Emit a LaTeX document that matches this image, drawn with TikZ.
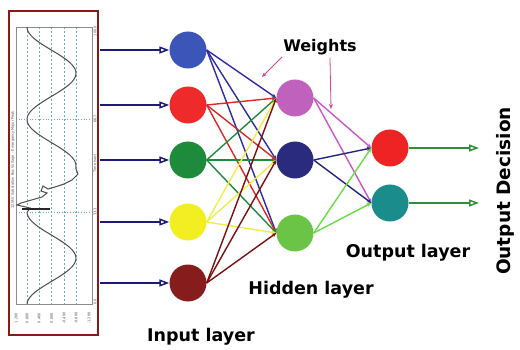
\documentclass[tikz,border=0pt]{standalone}
\usepackage{fontspec}
\setmainfont{DejaVu Sans}
\usetikzlibrary{arrows.meta}
\definecolor{inblue}{HTML}{3B55B9}
\definecolor{inred}{HTML}{EE2A2A}
\definecolor{ingreen}{HTML}{1D8A3C}
\definecolor{inyellow}{HTML}{F2EE22}
\definecolor{indark}{HTML}{861C1C}
\definecolor{hpink}{HTML}{C062BD}
\definecolor{hnavy}{HTML}{2A2A7E}
\definecolor{hgreen}{HTML}{6CC446}
\definecolor{ored}{HTML}{EE2424}
\definecolor{oteal}{HTML}{1B8C8C}
\definecolor{lblue}{HTML}{2C2CA8}
\definecolor{lred}{HTML}{D82828}
\definecolor{lgreen}{HTML}{1E8A3C}
\definecolor{lyellow}{HTML}{EEEE44}
\definecolor{ldark}{HTML}{7A1010}
\definecolor{lpink}{HTML}{CC55C8}
\definecolor{lnavy}{HTML}{24247E}
\definecolor{lgreenb}{HTML}{66DD44}
\definecolor{outarrow}{HTML}{2F8F3A}
\definecolor{inarrow}{HTML}{1C1C78}
\definecolor{wpink}{HTML}{E0408A}
\definecolor{boxred}{HTML}{8A1A1A}
\definecolor{gridc}{HTML}{6AAFB0}
\begin{document}
\begin{tikzpicture}[x=1pt,y=-1pt,
  neuron/.style={circle, minimum size=37pt, inner sep=0pt, draw=none},
  lbl/.style={font=\fontsize{17.5}{20}\selectfont\bfseries, inner sep=0pt, text=black},
  conn/.style={line width=1.4pt, -{Stealth[length=4.5pt,width=4pt]}},
  bigarrow/.style={line width=2.2pt, -{Triangle[open, length=10pt, width=7pt, line width=1.5pt]}},
  tiny/.style={font=\fontsize{3.5}{4}\selectfont, inner sep=0pt, text=black!70},
  warrow/.style={wpink, line width=0.8pt, -{Stealth[length=5pt,width=4pt]}}]
\useasboundingbox (0,0) rectangle (520,350);
% ---- left plot panel ----
\draw[boxred, line width=1.6pt] (9,11) rectangle (98,335);
\foreach \gx in {27,39,51.5,64,76}
  \draw[gridc, line width=0.5pt, dash pattern=on 2pt off 2pt] (\gx,27) -- (\gx,304);
\foreach \gy in {119,212}
  \draw[gridc, dotted, line width=0.7pt] (16,\gy) -- (92,\gy);
\draw[black!45, line width=0.8pt] (16,27) rectangle (92,304);
\draw[black!70, line width=1pt]
  plot[domain=27:165, samples=70, variable=\t] ({51.5-24.5*cos(3.8919*(\t-27))},{\t})
  -- (76,169) -- (78,174) -- (72,180) -- (64,184) -- (55,187) -- (48,189) -- (43,186)
  -- (41,191) -- (47,193) -- (42,197) -- (35,199) -- (28,201) -- (21,203) -- (17,205)
  -- (30,208) -- (28,211) -- (27,212)
  plot[domain=212:304, samples=40, variable=\t] ({51.5-24.5*cos(3.8919*(\t-27))},{\t});
\draw[black!85, line width=1.1pt] (22,209) -- (50,209);
\node[tiny, rotate=90] (ptitle) at (13,160) {12.5kV Substation Bus Voltage -- Emergency Major Peak};
\node[tiny, rotate=90] (ptime) at (95,163) {Time (sec)};
\node[tiny, rotate=90] (pt1) at (95,31) {100.0};
\node[tiny, rotate=90] (pt2) at (95,119) {66.7};
\node[tiny, rotate=90] (pt3) at (95,212) {33.3};
\node[tiny, rotate=90] (pt4) at (95,302) {0.0};
\foreach \vx/\vl in {16/1.200, 27/0.800, 39/0.400, 51.5/0.000, 64/-0.400, 76/-0.800, 89/-1.200}
  \node[tiny, rotate=90] at (\vx,318) {\vl};
% ---- neurons ----
\node[neuron, fill=inblue] (i1) at (188,50) {};
\node[neuron, fill=inred] (i2) at (188,105) {};
\node[neuron, fill=ingreen] (i3) at (188,160) {};
\node[neuron, fill=inyellow] (i4) at (188,222) {};
\node[neuron, fill=indark] (i5) at (188,283) {};
\node[neuron, fill=hpink] (h1) at (295,98) {};
\node[neuron, fill=hnavy] (h2) at (295,160) {};
\node[neuron, fill=hgreen] (h3) at (295,233) {};
\node[neuron, fill=ored] (o1) at (390,148) {};
\node[neuron, fill=oteal] (o2) at (390,203) {};
% ---- input arrows ----
\foreach \i/\yy in {i1/50, i2/105, i3/160, i4/222, i5/283} {
  \coordinate (s\i) at (100,\yy);
  \draw[bigarrow, inarrow] (s\i) -- (\i.west);
}
% ---- input to hidden ----
\foreach \i/\c in {i1/lblue, i2/lred, i3/lgreen, i4/lyellow, i5/ldark}
  \foreach \h in {h1,h2,h3}
    \draw[conn, \c] (\i.east) -- (\h.west);
% ---- hidden to output ----
\foreach \h/\c in {h1/lpink, h2/lnavy, h3/lgreenb}
  \foreach \o in {o1,o2}
    \draw[conn, \c] (\h.east) -- (\o.west);
% ---- output arrows ----
\coordinate (e1) at (479,148);
\coordinate (e2) at (479,203);
\draw[bigarrow, outarrow] (o1.east) -- (e1);
\draw[bigarrow, outarrow] (o2.east) -- (e2);
% ---- labels ----
\node[lbl, font=\fontsize{16}{18}\selectfont\bfseries] (wt) at (320,47) {Weights};
\coordinate (wa1) at (282,57);
\coordinate (wb1) at (262,77);
\coordinate (wa2) at (330,58);
\coordinate (wb2) at (331,109);
\draw[warrow] (wa1) -- (wb1);
\draw[warrow] (wa2) -- (wb2);
\node[lbl] (hl) at (311,290) {Hidden layer};
\node[lbl] (ol) at (408,253) {Output layer};
\node[lbl] (il) at (201,337) {Input layer};
\node[lbl, rotate=90, font=\fontsize{18.5}{20}\selectfont\bfseries] (od) at (505,191) {Output Decision};
\end{tikzpicture}
\end{document}
